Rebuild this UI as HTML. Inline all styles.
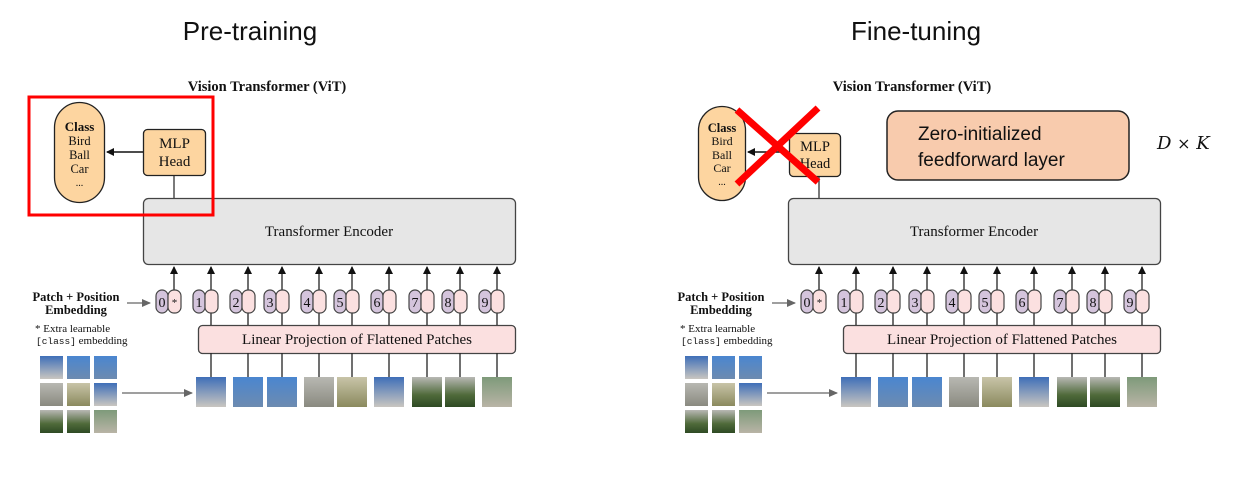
<!DOCTYPE html>
<html><head><meta charset="utf-8"><style>
html,body{margin:0;padding:0;background:#fff;width:1257px;height:503px;overflow:hidden}
svg{display:block}
.s{font-family:"Liberation Serif",serif;fill:#111}
.t{font-family:"Liberation Sans",sans-serif;fill:#111}
</style></head><body>
<svg width="1257" height="503" viewBox="0 0 1257 503" xmlns="http://www.w3.org/2000/svg">
<defs>
<marker id="ah" markerWidth="8" markerHeight="8" refX="7" refY="4" orient="auto" markerUnits="userSpaceOnUse"><path d="M0,0 L8,4 L0,8 z" fill="#111"/></marker>
<marker id="ag" markerWidth="9" markerHeight="8" refX="8" refY="4" orient="auto" markerUnits="userSpaceOnUse"><path d="M0,0 L9,4 L0,8 z" fill="#666"/></marker>
<linearGradient id="p1" x1="0" y1="0" x2="0" y2="1"><stop offset="0" stop-color="#3f6fb8"/><stop offset="1" stop-color="#c9c6c0"/></linearGradient>
<linearGradient id="p2" x1="0" y1="0" x2="0" y2="1"><stop offset="0" stop-color="#4a86d0"/><stop offset="1" stop-color="#6d8bb0"/></linearGradient>
<linearGradient id="p3" x1="0" y1="0" x2="0" y2="1"><stop offset="0" stop-color="#b8b8b2"/><stop offset="1" stop-color="#8a8a80"/></linearGradient>
<linearGradient id="p4" x1="0" y1="0" x2="0" y2="1"><stop offset="0" stop-color="#c8c4a8"/><stop offset="1" stop-color="#8b8a5e"/></linearGradient>
<linearGradient id="p5" x1="0" y1="0" x2="0" y2="1"><stop offset="0" stop-color="#b8b8b4"/><stop offset="0.6" stop-color="#4f6a3a"/><stop offset="1" stop-color="#2e4a24"/></linearGradient>
<linearGradient id="p6" x1="0" y1="0" x2="0" y2="1"><stop offset="0" stop-color="#7e9a7a"/><stop offset="1" stop-color="#b9b4a6"/></linearGradient>
</defs>

<text x="250" y="40" text-anchor="middle" class="t" font-size="26" fill="#222">Pre-training</text>
<text x="916" y="40" text-anchor="middle" class="t" font-size="26" fill="#222">Fine-tuning</text>

<!-- LEFT -->
<rect x="54.5" y="102.5" width="50" height="100" rx="25" fill="#fdd5a0" stroke="#222" stroke-width="1.3"/>
<text x="79.5" y="131" text-anchor="middle" class="s" font-size="13" font-weight="bold">Class</text>
<text x="79.5" y="145" text-anchor="middle" class="s" font-size="12.5">Bird</text>
<text x="79.5" y="159" text-anchor="middle" class="s" font-size="12.5">Ball</text>
<text x="79.5" y="173" text-anchor="middle" class="s" font-size="12.5">Car</text>
<text x="79.5" y="186" text-anchor="middle" class="s" font-size="10">...</text>
<rect x="143.5" y="129.5" width="62" height="46" rx="4" fill="#fdd5a0" stroke="#222" stroke-width="1.3"/>
<text x="174.5" y="148" text-anchor="middle" class="s" font-size="15">MLP</text>
<text x="174.5" y="166" text-anchor="middle" class="s" font-size="15">Head</text>
<g>
<text x="267" y="91" text-anchor="middle" class="s" font-size="14.5" font-weight="bold">Vision Transformer (ViT)</text>
<line x1="143" y1="152" x2="107" y2="152" stroke="#111" stroke-width="1.5" marker-end="url(#ah)"/>
<line x1="174" y1="176" x2="174" y2="198" stroke="#333" stroke-width="1.3"/>
<rect x="143.5" y="198.5" width="372" height="66" rx="5" fill="#e6e6e6" stroke="#444" stroke-width="1.3"/>
<text x="329" y="236" text-anchor="middle" class="s" font-size="15">Transformer Encoder</text>
<rect x="198.5" y="325.5" width="317" height="28" rx="4" fill="#fbe0e0" stroke="#444" stroke-width="1.3"/>
<text x="357" y="344" text-anchor="middle" class="s" font-size="15">Linear Projection of Flattened Patches</text>
<text x="76" y="301" text-anchor="middle" class="s" font-size="12.5" font-weight="bold">Patch + Position</text>
<text x="76" y="314" text-anchor="middle" class="s" font-size="12.5" font-weight="bold">Embedding</text>
<line x1="127" y1="303" x2="150" y2="303" stroke="#666" stroke-width="1.3" marker-end="url(#ag)"/>
<text x="35" y="332" class="s" font-size="11" fill="#333">* Extra learnable</text>
<text x="36" y="344" class="s" font-size="11" fill="#333"><tspan font-family="Liberation Mono,monospace" font-size="9.5">[class]</tspan> embedding</text>
<line x1="122" y1="393" x2="192" y2="393" stroke="#666" stroke-width="1.3" marker-end="url(#ag)"/>
<g stroke="#222" stroke-width="1.3">
<line x1="174" y1="290" x2="174" y2="267" marker-end="url(#ah)"/><line x1="211" y1="290" x2="211" y2="267" marker-end="url(#ah)"/><line x1="248" y1="290" x2="248" y2="267" marker-end="url(#ah)"/><line x1="282" y1="290" x2="282" y2="267" marker-end="url(#ah)"/><line x1="319" y1="290" x2="319" y2="267" marker-end="url(#ah)"/><line x1="352" y1="290" x2="352" y2="267" marker-end="url(#ah)"/><line x1="389" y1="290" x2="389" y2="267" marker-end="url(#ah)"/><line x1="427" y1="290" x2="427" y2="267" marker-end="url(#ah)"/><line x1="460" y1="290" x2="460" y2="267" marker-end="url(#ah)"/><line x1="497" y1="290" x2="497" y2="267" marker-end="url(#ah)"/>
<line x1="211" y1="313" x2="211" y2="325"/><line x1="248" y1="313" x2="248" y2="325"/><line x1="282" y1="313" x2="282" y2="325"/><line x1="319" y1="313" x2="319" y2="325"/><line x1="352" y1="313" x2="352" y2="325"/><line x1="389" y1="313" x2="389" y2="325"/><line x1="427" y1="313" x2="427" y2="325"/><line x1="460" y1="313" x2="460" y2="325"/><line x1="497" y1="313" x2="497" y2="325"/>
<line x1="211" y1="353" x2="211" y2="377"/><line x1="248" y1="353" x2="248" y2="377"/><line x1="282" y1="353" x2="282" y2="377"/><line x1="319" y1="353" x2="319" y2="377"/><line x1="352" y1="353" x2="352" y2="377"/><line x1="389" y1="353" x2="389" y2="377"/><line x1="427" y1="353" x2="427" y2="377"/><line x1="460" y1="353" x2="460" y2="377"/><line x1="497" y1="353" x2="497" y2="377"/>
</g>
<g stroke="#444" stroke-width="1.2">
<rect x="156" y="290" width="12" height="23" rx="6" fill="#d4c4dc"/><rect x="168" y="290" width="13" height="23" rx="6" fill="#fbe0e0"/>
<rect x="193" y="290" width="12" height="23" rx="6" fill="#d4c4dc"/><rect x="205" y="290" width="13" height="23" rx="6" fill="#fbe0e0"/>
<rect x="230" y="290" width="12" height="23" rx="6" fill="#d4c4dc"/><rect x="242" y="290" width="13" height="23" rx="6" fill="#fbe0e0"/>
<rect x="264" y="290" width="12" height="23" rx="6" fill="#d4c4dc"/><rect x="276" y="290" width="13" height="23" rx="6" fill="#fbe0e0"/>
<rect x="301" y="290" width="12" height="23" rx="6" fill="#d4c4dc"/><rect x="313" y="290" width="13" height="23" rx="6" fill="#fbe0e0"/>
<rect x="334" y="290" width="12" height="23" rx="6" fill="#d4c4dc"/><rect x="346" y="290" width="13" height="23" rx="6" fill="#fbe0e0"/>
<rect x="371" y="290" width="12" height="23" rx="6" fill="#d4c4dc"/><rect x="383" y="290" width="13" height="23" rx="6" fill="#fbe0e0"/>
<rect x="409" y="290" width="12" height="23" rx="6" fill="#d4c4dc"/><rect x="421" y="290" width="13" height="23" rx="6" fill="#fbe0e0"/>
<rect x="442" y="290" width="12" height="23" rx="6" fill="#d4c4dc"/><rect x="454" y="290" width="13" height="23" rx="6" fill="#fbe0e0"/>
<rect x="479" y="290" width="12" height="23" rx="6" fill="#d4c4dc"/><rect x="491" y="290" width="13" height="23" rx="6" fill="#fbe0e0"/>
</g>
<g class="s" font-size="14" text-anchor="middle">
<text x="162" y="307">0</text><text x="174.5" y="306" font-size="11">*</text>
<text x="199" y="307">1</text><text x="236" y="307">2</text><text x="270" y="307">3</text><text x="307" y="307">4</text><text x="340" y="307">5</text><text x="377" y="307">6</text><text x="415" y="307">7</text><text x="448" y="307">8</text><text x="485" y="307">9</text>
</g>
<rect x="196" y="377" width="30" height="30" fill="url(#p1)"/><rect x="233" y="377" width="30" height="30" fill="url(#p2)"/><rect x="267" y="377" width="30" height="30" fill="url(#p2)"/><rect x="304" y="377" width="30" height="30" fill="url(#p3)"/><rect x="337" y="377" width="30" height="30" fill="url(#p4)"/><rect x="374" y="377" width="30" height="30" fill="url(#p1)"/><rect x="412" y="377" width="30" height="30" fill="url(#p5)"/><rect x="445" y="377" width="30" height="30" fill="url(#p5)"/><rect x="482" y="377" width="30" height="30" fill="url(#p6)"/>
<rect x="40" y="356" width="23" height="23" fill="url(#p1)"/><rect x="67" y="356" width="23" height="23" fill="url(#p2)"/><rect x="94" y="356" width="23" height="23" fill="url(#p2)"/>
<rect x="40" y="383" width="23" height="23" fill="url(#p3)"/><rect x="67" y="383" width="23" height="23" fill="url(#p4)"/><rect x="94" y="383" width="23" height="23" fill="url(#p1)"/>
<rect x="40" y="410" width="23" height="23" fill="url(#p5)"/><rect x="67" y="410" width="23" height="23" fill="url(#p5)"/><rect x="94" y="410" width="23" height="23" fill="url(#p6)"/>
</g>
<rect x="29" y="97" width="184" height="118" fill="none" stroke="#f00" stroke-width="3"/>

<!-- RIGHT -->
<g transform="translate(645,0)">
<text x="267" y="91" text-anchor="middle" class="s" font-size="14.5" font-weight="bold">Vision Transformer (ViT)</text>
<line x1="143" y1="152" x2="103" y2="152" stroke="#111" stroke-width="1.5" marker-end="url(#ah)"/>
<line x1="174" y1="176" x2="174" y2="198" stroke="#333" stroke-width="1.3"/>
<rect x="143.5" y="198.5" width="372" height="66" rx="5" fill="#e6e6e6" stroke="#444" stroke-width="1.3"/>
<text x="329" y="236" text-anchor="middle" class="s" font-size="15">Transformer Encoder</text>
<rect x="198.5" y="325.5" width="317" height="28" rx="4" fill="#fbe0e0" stroke="#444" stroke-width="1.3"/>
<text x="357" y="344" text-anchor="middle" class="s" font-size="15">Linear Projection of Flattened Patches</text>
<text x="76" y="301" text-anchor="middle" class="s" font-size="12.5" font-weight="bold">Patch + Position</text>
<text x="76" y="314" text-anchor="middle" class="s" font-size="12.5" font-weight="bold">Embedding</text>
<line x1="127" y1="303" x2="150" y2="303" stroke="#666" stroke-width="1.3" marker-end="url(#ag)"/>
<text x="35" y="332" class="s" font-size="11" fill="#333">* Extra learnable</text>
<text x="36" y="344" class="s" font-size="11" fill="#333"><tspan font-family="Liberation Mono,monospace" font-size="9.5">[class]</tspan> embedding</text>
<line x1="122" y1="393" x2="192" y2="393" stroke="#666" stroke-width="1.3" marker-end="url(#ag)"/>
<g stroke="#222" stroke-width="1.3">
<line x1="174" y1="290" x2="174" y2="267" marker-end="url(#ah)"/><line x1="211" y1="290" x2="211" y2="267" marker-end="url(#ah)"/><line x1="248" y1="290" x2="248" y2="267" marker-end="url(#ah)"/><line x1="282" y1="290" x2="282" y2="267" marker-end="url(#ah)"/><line x1="319" y1="290" x2="319" y2="267" marker-end="url(#ah)"/><line x1="352" y1="290" x2="352" y2="267" marker-end="url(#ah)"/><line x1="389" y1="290" x2="389" y2="267" marker-end="url(#ah)"/><line x1="427" y1="290" x2="427" y2="267" marker-end="url(#ah)"/><line x1="460" y1="290" x2="460" y2="267" marker-end="url(#ah)"/><line x1="497" y1="290" x2="497" y2="267" marker-end="url(#ah)"/>
<line x1="211" y1="313" x2="211" y2="325"/><line x1="248" y1="313" x2="248" y2="325"/><line x1="282" y1="313" x2="282" y2="325"/><line x1="319" y1="313" x2="319" y2="325"/><line x1="352" y1="313" x2="352" y2="325"/><line x1="389" y1="313" x2="389" y2="325"/><line x1="427" y1="313" x2="427" y2="325"/><line x1="460" y1="313" x2="460" y2="325"/><line x1="497" y1="313" x2="497" y2="325"/>
<line x1="211" y1="353" x2="211" y2="377"/><line x1="248" y1="353" x2="248" y2="377"/><line x1="282" y1="353" x2="282" y2="377"/><line x1="319" y1="353" x2="319" y2="377"/><line x1="352" y1="353" x2="352" y2="377"/><line x1="389" y1="353" x2="389" y2="377"/><line x1="427" y1="353" x2="427" y2="377"/><line x1="460" y1="353" x2="460" y2="377"/><line x1="497" y1="353" x2="497" y2="377"/>
</g>
<g stroke="#444" stroke-width="1.2">
<rect x="156" y="290" width="12" height="23" rx="6" fill="#d4c4dc"/><rect x="168" y="290" width="13" height="23" rx="6" fill="#fbe0e0"/>
<rect x="193" y="290" width="12" height="23" rx="6" fill="#d4c4dc"/><rect x="205" y="290" width="13" height="23" rx="6" fill="#fbe0e0"/>
<rect x="230" y="290" width="12" height="23" rx="6" fill="#d4c4dc"/><rect x="242" y="290" width="13" height="23" rx="6" fill="#fbe0e0"/>
<rect x="264" y="290" width="12" height="23" rx="6" fill="#d4c4dc"/><rect x="276" y="290" width="13" height="23" rx="6" fill="#fbe0e0"/>
<rect x="301" y="290" width="12" height="23" rx="6" fill="#d4c4dc"/><rect x="313" y="290" width="13" height="23" rx="6" fill="#fbe0e0"/>
<rect x="334" y="290" width="12" height="23" rx="6" fill="#d4c4dc"/><rect x="346" y="290" width="13" height="23" rx="6" fill="#fbe0e0"/>
<rect x="371" y="290" width="12" height="23" rx="6" fill="#d4c4dc"/><rect x="383" y="290" width="13" height="23" rx="6" fill="#fbe0e0"/>
<rect x="409" y="290" width="12" height="23" rx="6" fill="#d4c4dc"/><rect x="421" y="290" width="13" height="23" rx="6" fill="#fbe0e0"/>
<rect x="442" y="290" width="12" height="23" rx="6" fill="#d4c4dc"/><rect x="454" y="290" width="13" height="23" rx="6" fill="#fbe0e0"/>
<rect x="479" y="290" width="12" height="23" rx="6" fill="#d4c4dc"/><rect x="491" y="290" width="13" height="23" rx="6" fill="#fbe0e0"/>
</g>
<g class="s" font-size="14" text-anchor="middle">
<text x="162" y="307">0</text><text x="174.5" y="306" font-size="11">*</text>
<text x="199" y="307">1</text><text x="236" y="307">2</text><text x="270" y="307">3</text><text x="307" y="307">4</text><text x="340" y="307">5</text><text x="377" y="307">6</text><text x="415" y="307">7</text><text x="448" y="307">8</text><text x="485" y="307">9</text>
</g>
<rect x="196" y="377" width="30" height="30" fill="url(#p1)"/><rect x="233" y="377" width="30" height="30" fill="url(#p2)"/><rect x="267" y="377" width="30" height="30" fill="url(#p2)"/><rect x="304" y="377" width="30" height="30" fill="url(#p3)"/><rect x="337" y="377" width="30" height="30" fill="url(#p4)"/><rect x="374" y="377" width="30" height="30" fill="url(#p1)"/><rect x="412" y="377" width="30" height="30" fill="url(#p5)"/><rect x="445" y="377" width="30" height="30" fill="url(#p5)"/><rect x="482" y="377" width="30" height="30" fill="url(#p6)"/>
<rect x="40" y="356" width="23" height="23" fill="url(#p1)"/><rect x="67" y="356" width="23" height="23" fill="url(#p2)"/><rect x="94" y="356" width="23" height="23" fill="url(#p2)"/>
<rect x="40" y="383" width="23" height="23" fill="url(#p3)"/><rect x="67" y="383" width="23" height="23" fill="url(#p4)"/><rect x="94" y="383" width="23" height="23" fill="url(#p1)"/>
<rect x="40" y="410" width="23" height="23" fill="url(#p5)"/><rect x="67" y="410" width="23" height="23" fill="url(#p5)"/><rect x="94" y="410" width="23" height="23" fill="url(#p6)"/>
</g>
<rect x="698.5" y="106.5" width="47" height="94" rx="23.5" fill="#fdd5a0" stroke="#222" stroke-width="1.3"/>
<text x="722" y="132" text-anchor="middle" class="s" font-size="12.5" font-weight="bold">Class</text>
<text x="722" y="145" text-anchor="middle" class="s" font-size="12">Bird</text>
<text x="722" y="159" text-anchor="middle" class="s" font-size="12">Ball</text>
<text x="722" y="172" text-anchor="middle" class="s" font-size="12">Car</text>
<text x="722" y="185" text-anchor="middle" class="s" font-size="10">...</text>
<rect x="789.5" y="133.5" width="51" height="43" rx="4" fill="#fdd5a0" stroke="#222" stroke-width="1.3"/>
<text x="815" y="151" text-anchor="middle" class="s" font-size="14.5">MLP</text>
<text x="815" y="168" text-anchor="middle" class="s" font-size="14.5">Head</text>
<line x1="737" y1="110" x2="818" y2="182" stroke="#f00" stroke-width="7"/>
<line x1="818" y1="108" x2="737" y2="184" stroke="#f00" stroke-width="7"/>
<rect x="887" y="111" width="242" height="69" rx="11" fill="#f8cbad" stroke="#222" stroke-width="1.5"/>
<text x="918" y="140" class="t" font-size="19">Zero-initialized</text>
<text x="918" y="166" class="t" font-size="19">feedforward layer</text>
<text x="1157" y="149" font-family="DejaVu Serif,serif" font-style="italic" font-size="18" fill="#111">D <tspan font-style="normal" font-size="16">×</tspan> K</text>
</svg>
</body></html>
